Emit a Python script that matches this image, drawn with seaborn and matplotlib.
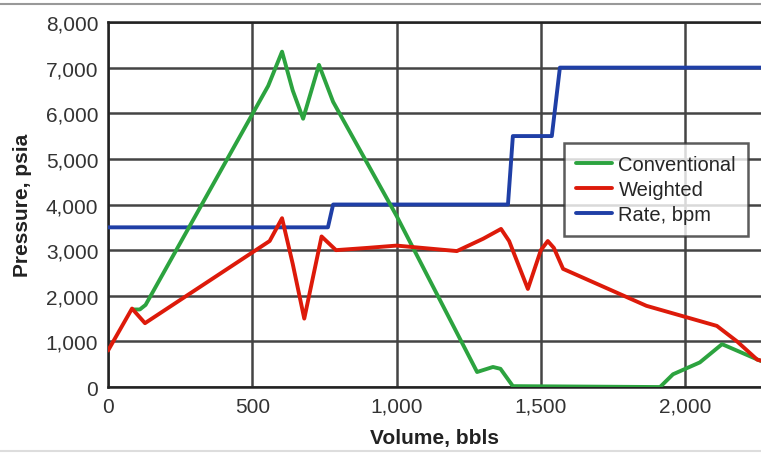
import matplotlib
matplotlib.use("Agg")
import matplotlib.pyplot as plt
from matplotlib import font_manager
from matplotlib.lines import Line2D
from matplotlib.ticker import FuncFormatter
import seaborn as sns
import pandas as pd

# Conventional pressure, psia
conv_vol = [83, 110, 130, 555, 603, 640, 676, 731, 780, 1000, 1279, 1334, 1360, 1403,
            1913, 1958, 2051, 2128, 2263]
conv_psi = [1700, 1700, 1800, 6600, 7350, 6500, 5880, 7060, 6250, 3750, 330, 440, 400, 20,
            0, 280, 540, 940, 570]

# Weighted pressure, psia
wt_vol = [0, 83, 128, 560, 603, 640, 680, 740, 790, 900, 1000, 1209, 1300, 1362, 1390,
          1455, 1500, 1524, 1545, 1577, 1866, 2110, 2180, 2250, 2263]
wt_psi = [800, 1720, 1400, 3200, 3700, 2700, 1500, 3300, 3000, 3050, 3100, 2980, 3250, 3465, 3200,
          2150, 3000, 3200, 3050, 2590, 1780, 1340, 1000, 600, 580]

# Rate, bpm (scaled on pressure axis)
rate_vol = [0, 762, 780, 1386, 1403, 1538, 1566, 2263]
rate_val = [3500, 3500, 4000, 4000, 5500, 5500, 7000, 7000]

names = [f.name for f in font_manager.fontManager.ttflist]
narrow = "Liberation Sans Narrow" if "Liberation Sans Narrow" in names else "Liberation Sans"

sns.set_style("white")
plt.rcParams["font.family"] = ["Liberation Sans", "DejaVu Sans"]

fig = plt.figure(figsize=(7.61, 4.56), dpi=100)
ax = fig.add_axes([0.142, 0.149, 0.858, 0.8006])

conv = pd.DataFrame({"vol": conv_vol, "psi": conv_psi})
wt = pd.DataFrame({"vol": wt_vol, "psi": wt_psi})
rate = pd.DataFrame({"vol": rate_vol, "psi": rate_val})

sns.lineplot(data=conv, x="vol", y="psi", ax=ax, color="#2ca33f", lw=2.8, sort=False,
             label="Conventional", zorder=4)
sns.lineplot(data=wt, x="vol", y="psi", ax=ax, color="#dd1a0a", lw=2.8, sort=False,
             label="Weighted", zorder=5)
sns.lineplot(data=rate, x="vol", y="psi", ax=ax, color="#1f3fa6", lw=2.8, sort=False,
             label="Rate, bpm", zorder=3)

ax.set_xlim(0, 2263)
ax.set_ylim(0, 8000)
ax.set_xticks([0, 500, 1000, 1500, 2000])
ax.set_yticks(range(0, 8001, 1000))
fmt = FuncFormatter(lambda v, p: f"{int(v):,}")
ax.xaxis.set_major_formatter(fmt)
ax.yaxis.set_major_formatter(fmt)
ax.grid(True, color="#444444", lw=1.8)
ax.set_axisbelow(True)
ax.tick_params(length=0, labelsize=15, colors="#333333", pad=7)
for t in ax.get_xticklabels() + ax.get_yticklabels():
    t.set_family([narrow, "DejaVu Sans"])

for s in ["left", "bottom", "top"]:
    ax.spines[s].set_visible(True)
    ax.spines[s].set_color("#222222")
    ax.spines[s].set_linewidth(1.8)
ax.spines["right"].set_visible(False)

ax.set_xlabel("Volume, bbls", fontsize=15, fontweight="bold", family=[narrow, "DejaVu Sans"],
              color="#222222", labelpad=9)
ax.set_ylabel("Pressure, psia", fontsize=15, fontweight="bold", family=[narrow, "DejaVu Sans"],
              color="#222222", labelpad=10)

leg = ax.legend(loc="lower left", bbox_to_anchor=(0.683, 0.385), frameon=True, fancybox=False,
                edgecolor="#333333", handlelength=1.8, handletextpad=0.3,
                labelspacing=0.3, borderpad=0.6,
                prop={"family": [narrow, "DejaVu Sans"], "size": 14.5})
leg.get_frame().set_linewidth(1.8)
leg.set_zorder(10)

# thin frame rules above and below the figure
fig.add_artist(Line2D([0, 1], [0.99, 0.99], color="#999999", lw=1.5))
fig.add_artist(Line2D([0, 1], [0.008, 0.008], color="#dddddd", lw=1.5))

fig.savefig("out.png", dpi=100)
